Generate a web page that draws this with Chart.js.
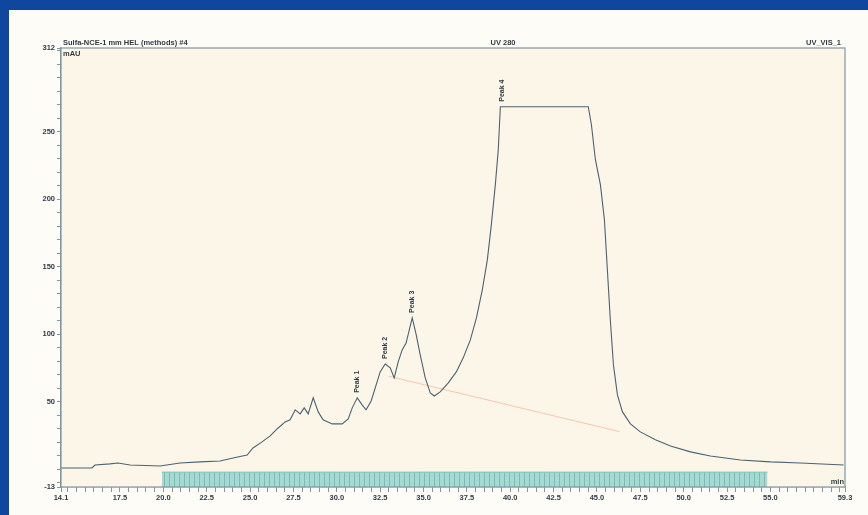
<!DOCTYPE html>
<html><head><meta charset="utf-8">
<script src="https://cdn.jsdelivr.net/npm/chart.js@4/dist/chart.umd.min.js"></script>
<style>
html,body{margin:0;padding:0;background:#0e479d;width:868px;height:515px;overflow:hidden}
#wrap{position:absolute;left:9px;top:10px;width:859px;height:505px;background:#fefcf7}
canvas{display:block}
</style></head><body><div id="wrap"><canvas id="c" width="859" height="505"></canvas></div>
<script>
// ---- data (time in min, signal in mAU) ----
const times = [14.10,15.88,16.06,16.92,17.38,18.08,19.81,20.96,22.12,23.27,24.02,24.83,25.17,25.69,26.16,26.62,27.02,27.31,27.60,27.89,28.12,28.35,28.64,28.93,29.21,29.73,30.31,30.66,30.89,31.18,31.46,31.69,31.98,32.27,32.50,32.79,33.08,33.31,33.54,33.77,34.00,34.18,34.35,34.58,34.81,35.10,35.39,35.62,35.96,36.43,36.89,37.29,37.70,38.05,38.39,38.68,38.91,39.14,39.31,39.43,44.50,44.68,44.91,45.20,45.43,45.60,45.77,45.95,46.18,46.47,46.93,47.50,48.37,49.24,50.39,51.54,53.27,55.00,56.74,59.22];
const signal = [1.1,1.1,3.3,4.1,4.8,3.3,2.6,4.8,5.6,6.3,8.5,10.7,15.9,20.4,24.8,30.7,35.2,36.7,44.1,41.1,45.6,41.1,53.0,42.6,36.7,33.7,33.7,37.4,45.6,53.0,47.8,44.1,50.7,62.6,72.2,78.1,75.2,67.8,79.6,88.5,93.7,103.3,112.2,99.6,84.8,67.8,56.7,54.4,57.4,64.1,72.2,82.6,95.9,112.2,133.0,155.2,181.1,210.7,236.7,268.5,268.5,255.2,229.3,210.7,184.8,147.8,110.7,77.4,55.2,42.6,33.7,27.8,21.9,17.4,13.0,10.0,7.0,5.6,4.8,3.3];
const peakNames = ["Peak 1","Peak 2","Peak 3","Peak 4"];
const peakTimes = [31.18,32.79,34.35,39.55];
const peakValues = [53.0,78.1,112.2,268.5];
const baselineTimes = [33.0,46.3];
const baselineValues = [69,28];
const fractionTimes = [19.92,54.83];
const fractionValues = [-2,-2];
const xMin = 14.1, xMax = 59.3, xLabelStep = 2.5, xMinorStep = 0.5, xLabelFirst = 17.5, xLabelLast = 55.0;
const yMin = -13, yMax = 312, yLabelStep = 50, yMinorStep = 10, yLabelFirst = 50, yLabelLast = 250;
const headerLeft = "Sulfa-NCE-1 mm HEL (methods) #4";
const headerCenter = "UV 280";
const headerRight = "UV_VIS_1";
const yUnit = "mAU";
const xUnit = "min";

const AX = "#7f96a4", TXT = "#2f3b44", FONT = "Liberation Sans, Arial, sans-serif";
const xy = (xs, ys) => xs.map((x, i) => ({x, y: ys[i]}));
const isStep = (v, s) => Math.abs(v / s - Math.round(v / s)) < 1e-6;

// hatch pattern for the fraction bar
const pc = document.createElement('canvas'); pc.width = 5; pc.height = 8;
const pctx = pc.getContext('2d');
pctx.fillStyle = 'rgba(150,212,204,0.85)'; pctx.fillRect(0, 0, 5, 8);
pctx.fillStyle = 'rgba(90,160,160,0.55)'; pctx.fillRect(0, 0, 1, 8);
const hatch = pctx.createPattern(pc, 'repeat');

const deco = {
  id: 'deco',
  beforeDatasetsDraw(chart) {
    const {ctx, chartArea: a} = chart;
    ctx.save();
    ctx.fillStyle = '#fcf6e9';
    ctx.fillRect(a.left, a.top, a.right - a.left, a.bottom - a.top);
    ctx.restore();
  },
  afterDatasetsDraw(chart) {
    const {ctx, chartArea: a, scales: {x, y}} = chart;
    ctx.save();
    ctx.strokeStyle = AX; ctx.lineWidth = 1.2;
    ctx.strokeRect(a.left, a.top, a.right - a.left, a.bottom - a.top);
    ctx.fillStyle = TXT;
    ctx.font = 'bold 7.5px ' + FONT;
    ctx.textBaseline = 'bottom';
    ctx.textAlign = 'left'; ctx.fillText(headerLeft, a.left + 2, a.top - 1);
    ctx.textAlign = 'center'; ctx.fillText(headerCenter, (a.left + a.right) / 2 + 50, a.top - 1);
    ctx.textAlign = 'right'; ctx.fillText(headerRight, a.right - 4, a.top - 1);
    ctx.textAlign = 'left'; ctx.textBaseline = 'top'; ctx.fillText(yUnit, a.left + 2, a.top + 2);
    ctx.textAlign = 'right'; ctx.textBaseline = 'bottom'; ctx.fillText(xUnit, a.right - 1, a.bottom - 1);
    // peak labels
    ctx.font = 'bold 7px ' + FONT;
    peakNames.forEach((n, i) => {
      const px = x.getPixelForValue(peakTimes[i]), py = y.getPixelForValue(peakValues[i]);
      ctx.save();
      ctx.translate(px, py - 5);
      ctx.rotate(-Math.PI / 2);
      ctx.textAlign = 'left'; ctx.textBaseline = 'middle';
      ctx.fillText(n, 0, 0);
      ctx.restore();
    });
    ctx.restore();
  }
};

new Chart(document.getElementById('c'), {
  type: 'line',
  data: {
    datasets: [
      {data: xy(times, signal), borderColor: '#4a6373', borderWidth: 1.1, pointRadius: 0, tension: 0, fill: false},
      {data: xy(baselineTimes, baselineValues), borderColor: 'rgba(240,150,120,0.5)', borderWidth: 1, pointRadius: 0, fill: false},
      {data: xy(fractionTimes, fractionValues), borderColor: '#74c2b8', backgroundColor: hatch, borderWidth: 1, pointRadius: 0, fill: 'start'}
    ]
  },
  options: {
    responsive: false, animation: false, devicePixelRatio: 1,
    layout: {padding: {top: 38, right: 23, left: 0, bottom: 0}},
    plugins: {legend: {display: false}, tooltip: {enabled: false}},
    scales: {
      x: {
        type: 'linear', min: xMin, max: xMax,
        afterFit(s) { s.height = 28; },
        afterBuildTicks(s) {
          const t = [{value: xMin}];
          for (let v = Math.ceil(xMin / xMinorStep) * xMinorStep; v < xMax - 1e-6; v += xMinorStep) t.push({value: +v.toFixed(2)});
          t.push({value: xMax});
          s.ticks = t;
        },
        ticks: {autoSkip: false, maxRotation: 0, padding: 1, color: TXT, font: {family: FONT, size: 7.5, weight: 'bold'},
          callback: v => (v === xMin || v === xMax || (v >= xLabelFirst - 1e-6 && v <= xLabelLast + 1e-6 && isStep(v, xLabelStep))) ? v.toFixed(1) : ''},
        grid: {drawOnChartArea: false, drawTicks: true, tickLength: 5, color: AX},
        border: {display: true, color: AX, width: 1.2}
      },
      y: {
        type: 'linear', min: yMin, max: yMax,
        afterFit(s) { s.width = 52; },
        afterBuildTicks(s) {
          const t = [{value: yMin}];
          for (let v = Math.ceil(yMin / yMinorStep) * yMinorStep; v < yMax - 1e-6; v += yMinorStep) t.push({value: v});
          t.push({value: yMax});
          s.ticks = t;
        },
        ticks: {autoSkip: false, padding: 2, color: TXT, font: {family: FONT, size: 7.5, weight: 'bold'},
          callback: v => (v === yMin || v === yMax || (v >= yLabelFirst && v <= yLabelLast && isStep(v, yLabelStep))) ? String(Math.round(v)) : ''},
        grid: {drawOnChartArea: false, drawTicks: true, tickLength: 4, color: AX},
        border: {display: true, color: AX, width: 1.2}
      }
    }
  },
  plugins: [deco]
});
</script></body></html>
